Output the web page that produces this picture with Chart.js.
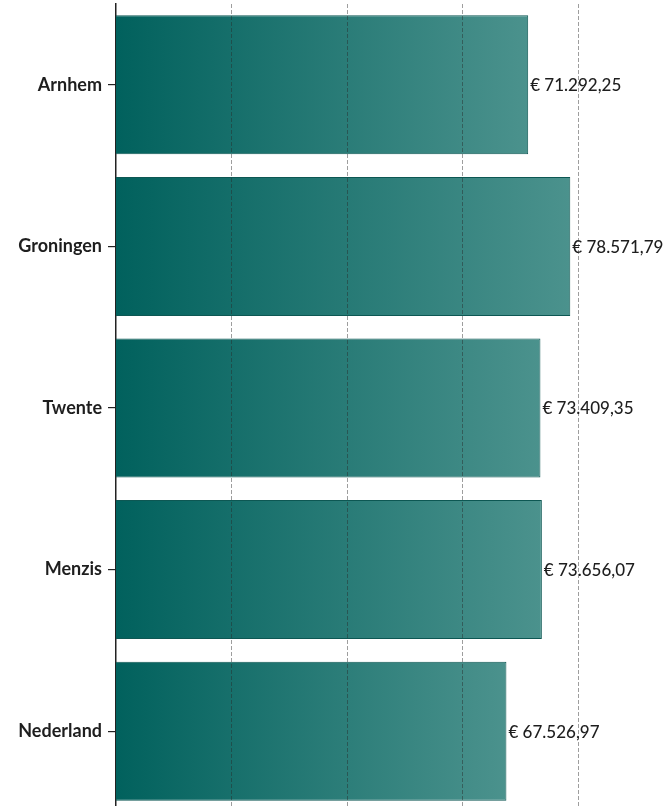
<!DOCTYPE html>
<html>
<head>
<meta charset="utf-8">
<script src="https://cdn.jsdelivr.net/npm/chart.js@4"></script>
<style>
  html, body { margin: 0; padding: 0; background: #fff; overflow: hidden; }
  #wrap { width: 667px; height: 812px; position: relative; }
</style>
</head>
<body>
<div id="wrap"><canvas id="chart"></canvas></div>
<script>
(function(){
  const regions = ['Arnhem', 'Groningen', 'Twente', 'Menzis', 'Nederland'];
  const amounts = [71292.25, 78571.79, 73409.35, 73656.07, 67526.97];
  const gridSteps = [20000, 40000, 60000, 80000];

  const THEME = {
    barDark: '#01615d',
    barLight: '#4b928d',
    barBorder: '#0d5753',
    axisColor: '#222222',
    gridColor: 'rgba(40,40,40,0.45)',
    textColor: '#1e1e1e'
  };

  function euro(v){
    const parts = v.toFixed(2).split('.');
    const whole = parts[0].replace(/\B(?=(\d{3})+(?!\d))/g, '.');
    return '€ ' + whole + ',' + parts[1];
  }

  function barGradient(ctx){
    const chart = ctx.chart;
    const area = chart.chartArea;
    const xs = chart.scales && chart.scales.x;
    if (!area || !xs || ctx.parsed == null) return THEME.barDark;
    const x0 = xs.getPixelForValue(0);
    const x1 = xs.getPixelForValue(ctx.parsed.x);
    const g = chart.ctx.createLinearGradient(x0, 0, x1, 0);
    g.addColorStop(0, THEME.barDark);
    g.addColorStop(1, THEME.barLight);
    return g;
  }

  // value labels at the end of each bar
  const valueLabels = {
    id: 'valueLabels',
    afterDatasetsDraw(chart){
      const { ctx } = chart;
      const meta = chart.getDatasetMeta(0);
      ctx.save();
      ctx.font = '500 17px Lato, "Open Sans", sans-serif';
      ctx.fillStyle = THEME.textColor;
      ctx.textAlign = 'left';
      ctx.textBaseline = 'middle';
      meta.data.forEach((bar, i) => {
        ctx.fillText(euro(amounts[i]), bar.x + 2, bar.y + 1);
      });
      ctx.restore();
    }
  };

  new Chart(document.getElementById('chart'), {
    type: 'bar',
    data: {
      labels: regions,
      datasets: [{
        data: amounts,
        backgroundColor: barGradient,
        borderColor: THEME.barBorder,
        borderWidth: 1,
        barPercentage: 0.86,
        categoryPercentage: 1
      }]
    },
    options: {
      indexAxis: 'y',
      responsive: true,
      maintainAspectRatio: false,
      animation: false,
      layout: { padding: { top: 4, right: 0, bottom: 0, left: 0 } },
      plugins: {
        legend: { display: false },
        tooltip: { enabled: false }
      },
      scales: {
        x: {
          min: 0,
          max: 95300,
          afterBuildTicks(scale){
            scale.ticks = gridSteps.map(v => ({ value: v }));
          },
          afterFit(scale){ scale.height = 0; },
          ticks: { display: false },
          border: { display: false, dash: [4, 2] },
          grid: {
            z: 1,
            drawTicks: false,
            color: THEME.gridColor,
            lineWidth: 1
          }
        },
        y: {
          afterFit(scale){
            scale.width = 116;
            scale.paddingTop = 0;
            scale.paddingBottom = 0;
          },
          ticks: {
            padding: 6,
            color: THEME.textColor,
            font: { family: 'Lato, "Open Sans", sans-serif', size: 18, weight: 'bold' }
          },
          border: { display: true, color: THEME.axisColor, width: 1.5 },
          grid: {
            offset: false,
            drawOnChartArea: false,
            drawTicks: true,
            tickLength: 8,
            color: THEME.axisColor,
            lineWidth: 1.2
          }
        }
      }
    },
    plugins: [valueLabels]
  });
})();
</script>
</body>
</html>
